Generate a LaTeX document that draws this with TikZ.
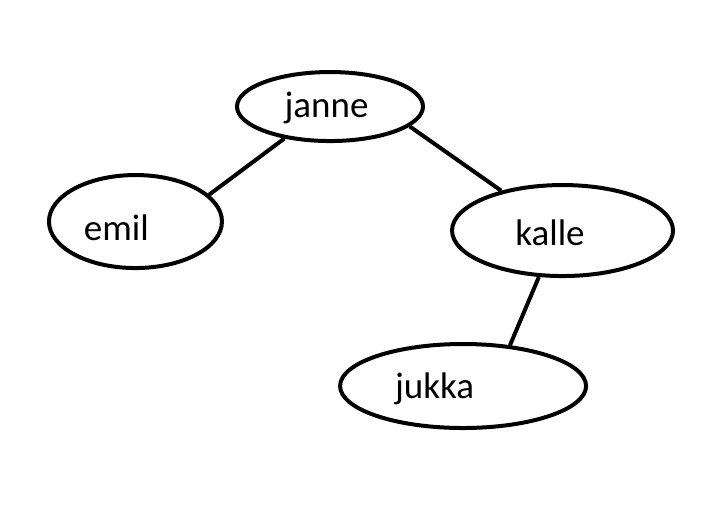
\documentclass[tikz,border=0pt]{standalone}
\usepackage{fontspec}
\setmainfont{Carlito}
\usepackage{tikz}
\usetikzlibrary{positioning, shapes.geometric, calc}

\begin{document}
\begin{tikzpicture}[on grid, line width=3pt,
    person/.style={ellipse, draw, inner sep=0pt},
    nametext/.style={anchor=base, inner sep=0pt, font=\fontsize{27.75}{33}\selectfont}]
    \useasboundingbox (-247.5pt,-314.6pt) rectangle (297.75pt,79.9pt);

    \node[person, minimum width=139.5pt, minimum height=51.75pt] (janne) {};
    \node[person, minimum width=129.75pt, minimum height=69.75pt] (emil) [below left=86.25pt and 145.9pt of janne] {};
    \node[person, minimum width=165.75pt, minimum height=68.25pt] (kalle) [below right=93pt and 174.4pt of janne] {};
    \node[person, minimum width=184.5pt, minimum height=63pt] (jukka) [below left=116.6pt and 74.6pt of kalle] {};

    \node[nametext] (janne-t) at ($(janne)+(-2.6pt,-7.9pt)$) {janne};
    \node[nametext] (emil-t) at ($(emil)+(-14.25pt,-13.9pt)$) {emil};
    \node[nametext] (kalle-t) at ($(kalle)+(-9.4pt,-10.9pt)$) {kalle};
    \node[nametext] (jukka-t) at ($(jukka)+(-21.4pt,-9pt)$) {jukka};

    \draw (janne.215) -- (emil.20);
    \draw (janne.346) -- (kalle.147);
    \draw (kalle.243) -- (jukka.41);
\end{tikzpicture}
\end{document}
